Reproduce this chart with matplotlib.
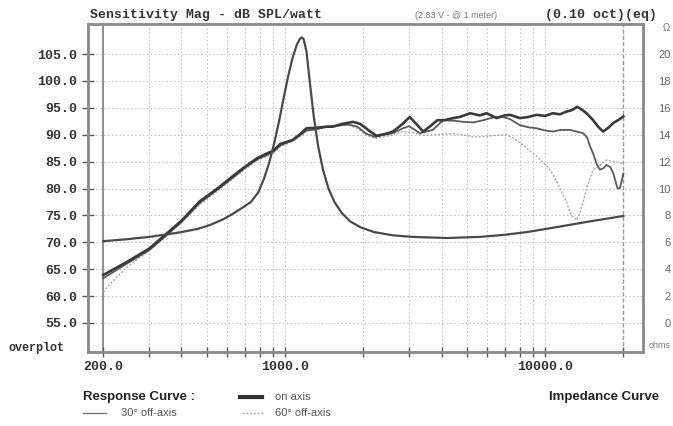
import numpy as np
import matplotlib
matplotlib.use('Agg')
import matplotlib.pyplot as plt
from matplotlib.ticker import FixedLocator, NullFormatter

# --- data ------------------------------------------------------------------
on_axis_freq = [200, 250, 300, 345, 400, 470, 550, 630, 700, 780, 850, 900, 960,
                1070, 1150, 1210, 1320, 1450, 1530, 1650, 1830, 1950, 2100, 2250,
                2450, 2600, 2800, 3020, 3200, 3400, 3600, 3850, 4100, 4430, 4700,
                5150, 5600, 5960, 6520, 7000, 7330, 8000, 8600, 9270, 10000, 10700,
                11400, 12080, 12700, 13300, 14000, 14500, 15300, 16000, 16700,
                17500, 18300, 19200, 20000]
on_axis_db = [63.9, 66.5, 68.8, 71.3, 74.0, 77.6, 80.0, 82.3, 84.0, 85.6, 86.5, 87.0, 88.3,
              89.0, 90.2, 91.2, 91.3, 91.5, 91.5, 92.0, 92.4, 92.0, 90.8, 89.8,
              90.2, 90.6, 91.8, 93.3, 92.0, 90.6, 91.5, 92.7, 92.7, 93.1, 93.3,
              94.0, 93.6, 94.0, 93.1, 93.6, 93.7, 93.1, 93.3, 93.7, 93.5, 94.0,
              93.8, 94.3, 94.6, 95.2, 94.5, 93.9, 92.7, 91.5, 90.6,
              91.3, 92.2, 92.8, 93.4]

off30_freq = [200, 250, 300, 345, 400, 470, 550, 630, 700, 780, 850, 900, 960,
              1070, 1150, 1210, 1320, 1450, 1600, 1750, 1900, 2050, 2220, 2400,
              2600, 2840, 3000, 3300, 3700, 4050, 4500, 4840, 5300, 5780, 6300,
              6800, 7330, 8000, 8600, 9270, 10000, 10700, 11500, 12500, 13200,
              14000, 14500, 14900, 15300, 15800, 16260, 16800, 17200, 17800,
              18300, 18990, 19400, 20000]
off30_db = [63.3, 66.2, 68.5, 71.0, 73.8, 77.3, 79.8, 82.0, 83.8, 85.4, 86.2, 86.8, 88.0,
            89.0, 90.0, 90.8, 91.0, 91.5, 91.7, 91.9, 91.5, 90.2, 89.6, 90.0,
            90.3, 91.2, 91.6, 90.3, 90.9, 92.7, 92.6, 92.4, 92.3, 92.7, 93.2,
            93.4, 92.9, 91.8, 91.4, 91.2, 90.8, 90.6, 90.9, 90.9, 90.6,
            90.3, 89.5, 87.8, 86.5, 84.5, 83.5, 83.8, 84.4, 84.0,
            82.8, 80.0, 80.1, 82.8]

off60_freq = [200, 225, 250, 300, 345, 400, 470, 550, 630, 700, 780, 850, 900, 960,
              1070, 1150, 1210, 1320, 1450, 1600, 1750, 1900, 2050, 2220, 2400,
              2600, 2840, 3100, 3400, 3800, 4300, 4800, 5300, 5960, 6500, 7110,
              7600, 8000, 8600, 9270, 10000, 10450, 11000, 11400, 12000, 12600,
              13200, 13600, 14000, 14470, 15300, 16200, 17250, 18500, 20000]
off60_db = [60.8, 63.5, 65.6, 68.4, 70.9, 73.6, 77.0, 79.5, 81.8, 83.5, 85.2, 86.0, 86.5, 87.8,
            88.8, 89.8, 90.6, 91.1, 91.6, 91.8, 91.8, 91.2, 90.0, 89.3, 89.6,
            90.0, 90.6, 90.4, 89.9, 90.0, 90.2, 90.0, 89.6, 89.7, 89.9, 90.0,
            89.3, 88.5, 87.3, 86.0, 84.5, 83.5, 81.7, 80.0, 77.8, 75.1,
            74.1, 75.4, 77.5, 80.3, 83.5, 84.3, 85.3, 85.0, 84.6]

imp_freq = [200, 250, 300, 344, 400, 463, 520, 580, 620, 680, 740, 790, 830, 870,
            910, 950, 990, 1030, 1070, 1110, 1140, 1160, 1180, 1210, 1248, 1290,
            1340, 1400, 1470, 1550, 1650, 1780, 1950, 2200, 2600, 3100, 4200,
            5600, 7000, 8500, 10700, 14500, 20000]
imp_ohm = [6.08, 6.24, 6.40, 6.56, 6.76, 7.0, 7.32, 7.72, 8.04, 8.52, 9.0, 9.72, 10.72, 11.92,
           13.4, 15.04, 16.8, 18.4, 19.72, 20.68, 21.12, 21.24, 21.12, 20.2, 17.8, 15.4,
           13.2, 11.4, 10.0, 9.0, 8.2, 7.56, 7.12, 6.76, 6.52, 6.4, 6.32,
           6.4, 6.56, 6.76, 7.08, 7.52, 7.96]

db_ticks = [55, 60, 65, 70, 75, 80, 85, 90, 95, 100, 105]
ohm_ticks = [0, 2, 4, 6, 8, 10, 12, 14, 16, 18, 20]
freq_major = [200, 1000, 10000]
freq_minor = [300, 400, 500, 600, 700, 800, 900, 2000, 3000, 4000, 5000,
              6000, 7000, 8000, 9000, 20000]

mono = 'Liberation Mono'
sans = 'Liberation Sans'

fig = plt.figure(figsize=(6.73, 4.26), dpi=100)
ax = fig.add_axes([0.1308, 0.1737, 0.8247, 0.77])

ax.set_xscale('log')
ax.set_xlim(175, 23800)
ax.set_ylim(49.6, 110.6)

# grid
for v in db_ticks:
    ax.axhline(v, color='#bdbdbd', lw=0.7, ls=(0, (1.5, 2.5)), zorder=1)
for f in freq_major[1:] + freq_minor[:-1]:
    ax.axvline(f, color='#bdbdbd', lw=0.7, ls=(0, (1.5, 2.5)), zorder=1)
ax.axvline(200, color='#7a7a7a', lw=1.2, zorder=1)
ax.axvline(20000, color='#9a9a9a', lw=1.0, ls=(0, (3, 1.5)), zorder=1)

# curves
ax.plot(off60_freq, off60_db, color='#a8a8a8', lw=1.0, ls=(0, (1.5, 1.2)), zorder=3)
ax.plot(off30_freq, off30_db, color='#5a5a5a', lw=1.3, zorder=4)
ax.plot(on_axis_freq, on_axis_db, color='#3a3a3a', lw=1.9, zorder=5)

ax2 = ax.twinx()
ax2.set_ylim((49.6 - 55) * 0.4, (110.6 - 55) * 0.4)
ax2.plot(imp_freq, imp_ohm, color='#4a4a4a', lw=1.6, zorder=4)

# frame
for a in (ax, ax2):
    for s in a.spines.values():
        s.set_color('#8c8c8c')
        s.set_linewidth(1.8)

# ticks
ax.xaxis.set_major_locator(FixedLocator(freq_major))
ax.xaxis.set_minor_locator(FixedLocator(freq_minor))
ax.xaxis.set_minor_formatter(NullFormatter())
ax.set_xticklabels(['200.0', '1000.0', '10000.0'], fontfamily=mono,
                   fontweight='bold', fontsize=9.5, color='#333333')
ax.tick_params(axis='x', which='both', direction='inout', length=7, width=1,
               color='#555555', pad=3)
ax.set_yticks(db_ticks)
ax.set_yticklabels(['%.1f' % v for v in db_ticks], fontfamily=mono,
                   fontweight='bold', fontsize=9.5, color='#333333')
ax.tick_params(axis='y', direction='inout', length=8, width=1,
               color='#555555', pad=4)

ax2.set_yticks(ohm_ticks)
ax2.set_yticklabels([str(v) for v in ohm_ticks], fontfamily=sans,
                    fontsize=8, color='#666666', ha='right')
ax2.tick_params(axis='y', length=0, pad=20)

# header texts
fig.text(0.134, 0.965, 'Sensitivity Mag - dB SPL/watt', fontfamily=mono,
         fontweight='bold', fontsize=9.5, color='#333333', va='center')
fig.text(0.617, 0.963, '(2.83 V - @ 1 meter)', fontfamily=sans,
         fontsize=6.5, color='#777777', va='center')
fig.text(0.81, 0.965, '(0.10 oct)(eq)', fontfamily=mono,
         fontweight='bold', fontsize=9.5, color='#333333', va='center')
fig.text(0.996, 0.935, '\u03a9', fontfamily=sans, fontsize=7,
         color='#777777', va='center', ha='right')
fig.text(0.996, 0.19, 'ohms', fontfamily=sans, fontsize=6.5,
         color='#777777', va='center', ha='right')
fig.text(0.012, 0.182, 'overplot', fontfamily=mono, fontweight='bold',
         fontsize=8.5, color='#333333', va='center')

# legend block
fig.text(0.124, 0.068, 'Response Curve :', fontfamily=sans, fontweight='bold',
         fontsize=9.5, color='#222222', va='center')
fig.text(0.816, 0.068, 'Impedance Curve', fontfamily=sans, fontweight='bold',
         fontsize=9.5, color='#222222', va='center')
fig.add_artist(plt.Line2D([0.357, 0.389], [0.068, 0.068], color='#333333', lw=3))
fig.text(0.409, 0.068, 'on axis', fontfamily=sans, fontsize=8,
         color='#555555', va='center')
fig.add_artist(plt.Line2D([0.124, 0.157], [0.03, 0.03], color='#777777', lw=1))
fig.text(0.18, 0.03, '30\u00b0 off-axis', fontfamily=sans, fontsize=8,
         color='#555555', va='center')
fig.add_artist(plt.Line2D([0.359, 0.392], [0.03, 0.03], color='#aaaaaa', lw=1,
                          ls=(0, (1.5, 1.2))))
fig.text(0.409, 0.03, '60\u00b0 off-axis', fontfamily=sans, fontsize=8,
         color='#555555', va='center')

fig.savefig('out.png', dpi=100)
